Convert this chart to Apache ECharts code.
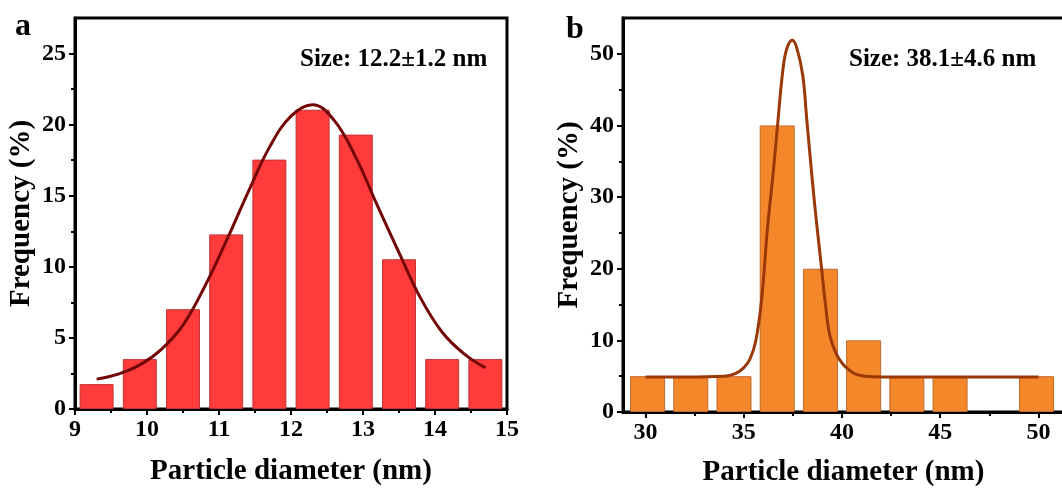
<!DOCTYPE html>
<html>
<head>
<meta charset="utf-8">
<script src="https://cdn.jsdelivr.net/npm/echarts@6/dist/echarts.min.js"></script>
<style>
html, body { margin: 0; padding: 0; background: #fff; }
#chart { width: 1062px; height: 489px; }
</style>
</head>
<body>
<div id="chart"></div>
<script>
// panel a : bin centres (nm) and frequency (%)
var binsA = [9.3, 9.9, 10.5, 11.1, 11.7, 12.3, 12.9, 13.5, 14.1, 14.7];
var freqA = [1.75, 3.51, 7.02, 12.28, 17.54, 21.05, 19.30, 10.53, 3.51, 3.51];
// gauss fit
var fitA = [[9.3, 2.1], [9.6, 2.45], [9.9, 3.1], [10.2, 4.2], [10.5, 5.9], [10.8, 8.6],
    [11.1, 11.8], [11.4, 15.2], [11.7, 18.4], [12.0, 20.6], [12.3, 21.4], [12.6, 20.3],
    [12.9, 17.7], [13.2, 14.3], [13.5, 11.0], [13.8, 7.8], [14.1, 5.4], [14.4, 3.9], [14.7, 2.9]];

// panel b
var binsB = [30.1, 32.3, 34.5, 36.7, 38.9, 41.1, 43.3, 45.5, 47.7, 49.9];
var freqB = [5, 5, 5, 40, 20, 10, 5, 5, 0, 5];
var fitB = [[30, 4.9], [32, 4.9], [34, 5.0], [34.6, 5.4], [35.0, 6.2], [35.3, 7.3], [35.6, 9.8],
    [35.9, 15.5], [36.2, 25.5], [36.5, 33.5], [36.7, 39.5], [37.0, 48.0], [37.2, 50.8],
    [37.47, 51.9], [37.7, 50.8], [38.0, 47.0], [38.2, 41.0], [38.5, 32.0], [38.7, 26.5],
    [38.95, 20.3], [39.15, 15.2], [39.4, 10.5], [39.9, 7.2], [40.6, 5.4], [41.2, 5.0],
    [42, 4.9], [46, 4.9], [50, 4.9]];

// ticks
var xTicksA = [9, 10, 11, 12, 13, 14, 15];
var xMinorA = [9.5, 10.5, 11.5, 12.5, 13.5, 14.5];
var yTicksA = [0, 5, 10, 15, 20, 25];
var yMinorA = [2.5, 7.5, 12.5, 17.5, 22.5];
var xTicksB = [30, 35, 40, 45, 50];
var xMinorB = [32.5, 37.5, 42.5, 47.5];
var yTicksB = [0, 10, 20, 30, 40, 50];
var yMinorB = [5, 15, 25, 35, 45];

var FONT = 'Liberation Serif';

// empty bins are left out so no flat bar is drawn
function pairs(xs, ys) {
    var out = [];
    xs.forEach(function (x, i) { if (ys[i] > 0) out.push([x, ys[i]]); });
    return out;
}

function majorAxis(grid, pos, min, max, ticks, name, gap) {
    return {
        type: 'value', gridIndex: grid, position: pos, min: min, max: max,
        name: name, nameLocation: 'middle', nameGap: gap,
        nameTextStyle: { fontFamily: FONT, fontWeight: 'bold', fontSize: 29, color: '#000' },
        axisLine: { show: true, onZero: false, lineStyle: { color: '#000', width: 3 } },
        axisTick: { show: true, customValues: ticks, length: 6, lineStyle: { color: '#000', width: 2 } },
        axisLabel: { customValues: ticks, margin: 9, fontFamily: FONT, fontWeight: 'bold', fontSize: 24, color: '#000' },
        splitLine: { show: false }
    };
}
function minorAxis(grid, pos, min, max, ticks) {
    return {
        type: 'value', gridIndex: grid, position: pos, min: min, max: max,
        axisLine: { show: false, onZero: false },
        axisTick: { show: true, customValues: ticks, length: 4, lineStyle: { color: '#000', width: 2 } },
        axisLabel: { show: false },
        splitLine: { show: false }
    };
}

var chart = echarts.init(document.getElementById('chart'));
var option = {
    animation: false,
    backgroundColor: '#fff',
    grid: [
        { left: 75, top: 18, width: 432, height: 391, show: true, borderColor: '#000', borderWidth: 3, outerBoundsMode: 'none' },
        { left: 623, top: 18, width: 441, height: 394, show: true, borderColor: '#000', borderWidth: 3, outerBoundsMode: 'none' }
    ],
    xAxis: [
        majorAxis(0, 'bottom', 9, 15, xTicksA, 'Particle diameter (nm)', 48),
        minorAxis(0, 'bottom', 9, 15, xMinorA),
        majorAxis(1, 'bottom', 28.85, 51.3, xTicksB, 'Particle diameter (nm)', 46),
        minorAxis(1, 'bottom', 28.85, 51.3, xMinorB)
    ],
    yAxis: [
        majorAxis(0, 'left', 0, 27.5, yTicksA, 'Frequency (%)', 39),
        minorAxis(0, 'left', 0, 27.5, yMinorA),
        majorAxis(1, 'left', 0, 55, yTicksB, 'Frequency (%)', 39),
        minorAxis(1, 'left', 0, 55, yMinorB)
    ],
    series: [
        {
            type: 'bar', xAxisIndex: 0, yAxisIndex: 0, barWidth: 34,
            itemStyle: { color: '#ff3b3b', borderColor: '#c43434', borderWidth: 1 },
            data: pairs(binsA, freqA)
        },
        {
            type: 'line', xAxisIndex: 0, yAxisIndex: 0, smooth: 0.4,
            showSymbol: false, lineStyle: { color: '#740606', width: 3 },
            data: fitA
        },
        {
            type: 'bar', xAxisIndex: 2, yAxisIndex: 2, barWidth: 35,
            itemStyle: { color: '#f5872b', borderColor: '#c06a2c', borderWidth: 1 },
            data: pairs(binsB, freqB)
        },
        {
            type: 'line', xAxisIndex: 2, yAxisIndex: 2, smooth: 0.4,
            showSymbol: false, lineStyle: { color: '#9a3808', width: 3 },
            data: fitB
        }
    ],
    graphic: [
        { type: 'text', left: 15, top: 11, style: { text: 'a', font: 'bold 32px "Liberation Serif"', fill: '#000' } },
        { type: 'text', left: 566, top: 14, style: { text: 'b', font: 'bold 32px "Liberation Serif"', fill: '#000' } },
        { type: 'text', left: 300, top: 47, style: { text: 'Size: 12.2\u00b11.2 nm', font: 'bold 25px "Liberation Serif"', fill: '#000' } },
        { type: 'text', left: 849, top: 47, style: { text: 'Size: 38.1\u00b14.6 nm', font: 'bold 25px "Liberation Serif"', fill: '#000' } }
    ]
};
chart.setOption(option);
</script>
</body>
</html>
